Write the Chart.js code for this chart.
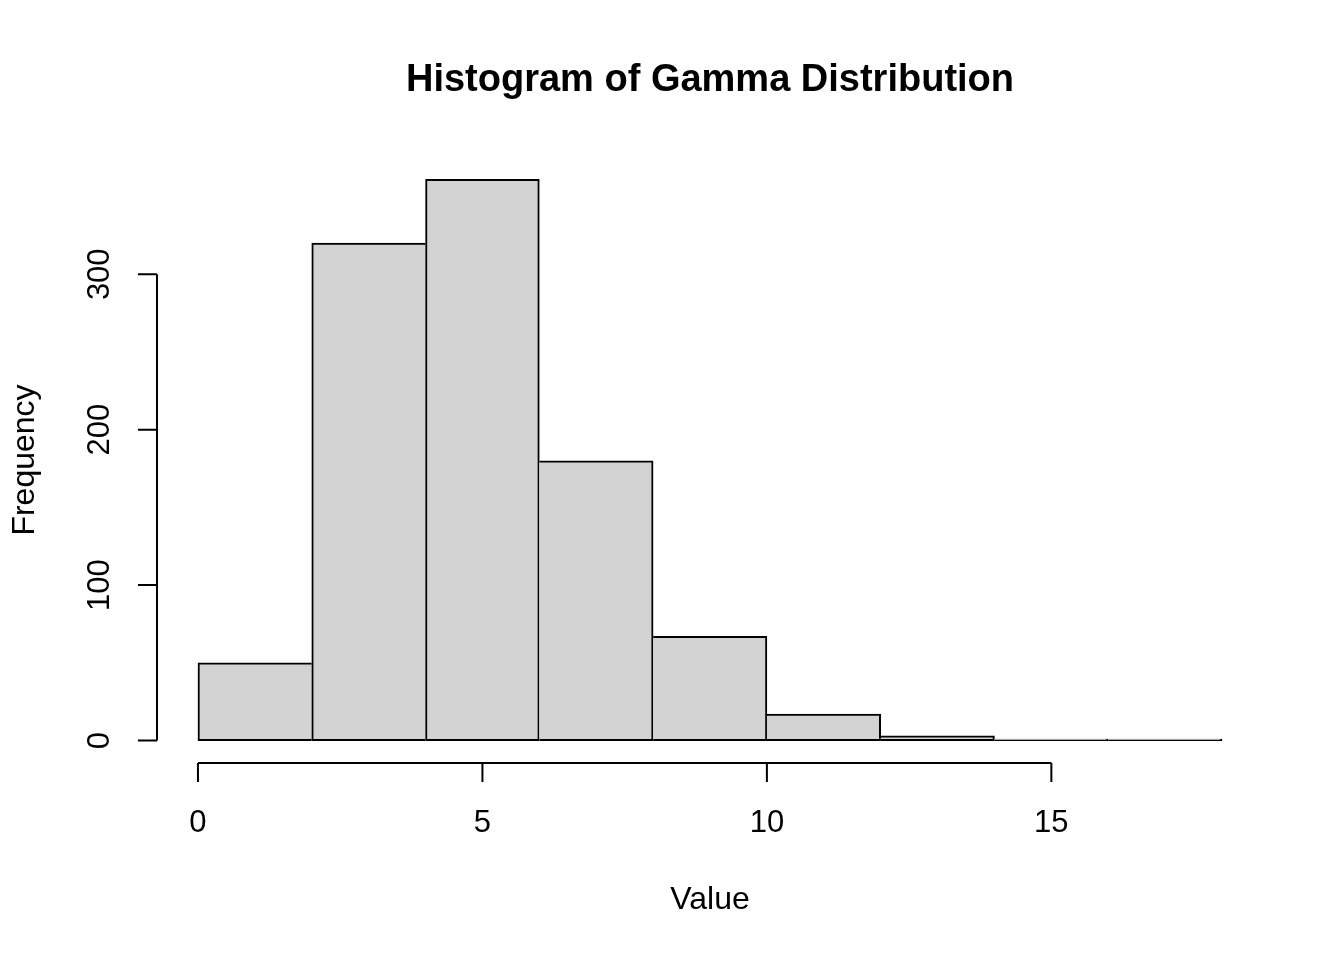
<!DOCTYPE html>
<html>
<head>
<meta charset="utf-8">
<script src="https://cdn.jsdelivr.net/npm/chart.js@4.4.0/dist/chart.umd.min.js"></script>
<style>
  html, body { margin: 0; padding: 0; background: #fff; }
  #wrap { width: 1344px; height: 960px; }
</style>
</head>
<body>
<div id="wrap"><canvas id="hist"></canvas></div>
<script>
// Histogram bins (left edges, width 2) and counts
const binStarts = [0, 2, 4, 6, 8, 10, 12, 14, 16];
const binWidth = 2;
const counts = [50, 320, 361, 180, 67, 17, 3, 1, 1];

// Axis ticks
const xTicks = [0, 5, 10, 15];
const yTicks = [0, 100, 200, 300];

const chartTitle = 'Histogram of Gamma Distribution';
const xTitle = 'Value';
const yTitle = 'Frequency';

const FONT = '"Liberation Sans", Arial, sans-serif';

// R-style range: data range padded by 4% on each side
const xMin = 0, xMax = binStarts[binStarts.length - 1] + binWidth;
const xPad = (xMax - xMin) * 0.04;
const yMax = Math.max(...counts);
const yPad = yMax * 0.04;

// shared edges between bars are drawn once, by the taller bar
function edgeWidths(ctx) {
    const i = ctx.dataIndex;
    const c = counts[i];
    const left = (i > 0 && counts[i - 1] >= c) ? 0 : 2;
    const right = (i < counts.length - 1 && counts[i + 1] > c) ? 0 : 2;
    return { top: 2, bottom: 2, left: left, right: right };
}

// Draws the R style axes, title and labels using the chart's scales
const rAxes = {
    id: 'rAxes',
    afterDraw(chart) {
        const ctx = chart.ctx;
        const area = chart.chartArea;
        const xs = chart.scales.x;
        const ys = chart.scales.y;
        ctx.save();
        ctx.strokeStyle = '#000';
        ctx.fillStyle = '#000';
        ctx.lineWidth = 2;

        // x axis
        const axY = area.bottom;
        ctx.beginPath();
        ctx.moveTo(xs.getPixelForValue(xTicks[0]), axY);
        ctx.lineTo(xs.getPixelForValue(xTicks[xTicks.length - 1]), axY);
        xTicks.forEach(t => {
            const px = xs.getPixelForValue(t);
            ctx.moveTo(px, axY);
            ctx.lineTo(px, axY + 19);
        });
        ctx.stroke();
        ctx.font = '31px ' + FONT;
        ctx.textAlign = 'center';
        ctx.textBaseline = 'middle';
        xTicks.forEach(t => {
            ctx.fillText(String(t), xs.getPixelForValue(t), axY + 60);
        });

        // y axis
        const axX = area.left;
        ctx.beginPath();
        ctx.moveTo(axX, ys.getPixelForValue(yTicks[0]));
        ctx.lineTo(axX, ys.getPixelForValue(yTicks[yTicks.length - 1]));
        yTicks.forEach(t => {
            const py = ys.getPixelForValue(t);
            ctx.moveTo(axX, py);
            ctx.lineTo(axX - 19, py);
        });
        ctx.stroke();
        yTicks.forEach(t => {
            ctx.save();
            ctx.translate(axX - 57, ys.getPixelForValue(t));
            ctx.rotate(-Math.PI / 2);
            ctx.fillText(String(t), 0, 0);
            ctx.restore();
        });

        // axis titles
        const cx = (area.left + area.right) / 2;
        const cy = (area.top + area.bottom) / 2;
        ctx.font = '32px ' + FONT;
        ctx.fillText(xTitle, cx, axY + 137);
        ctx.save();
        ctx.translate(axX - 132, cy);
        ctx.rotate(-Math.PI / 2);
        ctx.fillText(yTitle, 0, 0);
        ctx.restore();

        // main title
        ctx.font = 'bold 38px ' + FONT;
        ctx.fillText(chartTitle, cx, 81);
        ctx.restore();
    }
};

new Chart(document.getElementById('hist'), {
    type: 'bar',
    data: {
        datasets: [{
            data: binStarts.map((s, i) => ({ x: s + binWidth / 2, y: counts[i] })),
            backgroundColor: '#d3d3d3',
            borderColor: '#000',
            borderWidth: edgeWidths,
            borderSkipped: false,
            barPercentage: 1,
            categoryPercentage: 1
        }]
    },
    options: {
        responsive: true,
        maintainAspectRatio: false,
        animation: false,
        layout: { padding: { left: 157, right: 81, top: 157, bottom: 197 } },
        plugins: {
            legend: { display: false },
            title: { display: false },
            tooltip: { enabled: false }
        },
        scales: {
            x: {
                type: 'linear',
                offset: false,
                min: xMin - xPad,
                max: xMax + xPad,
                display: false
            },
            y: {
                min: -yPad,
                max: yMax + yPad,
                display: false
            }
        }
    },
    plugins: [rAxes]
});
</script>
</body>
</html>
